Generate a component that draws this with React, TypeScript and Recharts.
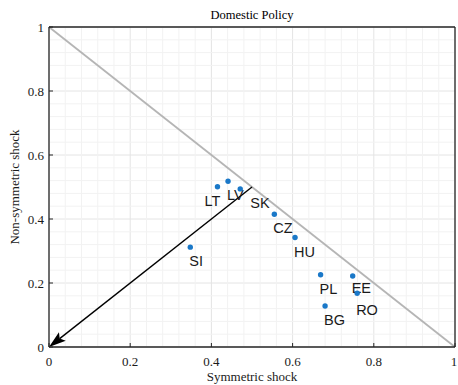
import React from 'react';
import { ScatterChart, Scatter, XAxis, YAxis, CartesianGrid, ReferenceLine, Label } from 'recharts';

// country codes and their shock decomposition
const countries = ['LT', 'LV', 'SK', 'CZ', 'HU', 'SI', 'PL', 'EE', 'RO', 'BG'];
const symmetricShock = [0.415, 0.441, 0.471, 0.555, 0.606, 0.348, 0.669, 0.748, 0.759, 0.68];
const nonSymmetricShock = [0.501, 0.518, 0.494, 0.415, 0.342, 0.312, 0.226, 0.222, 0.168, 0.128];

const majorTicks = [0, 0.2, 0.4, 0.6, 0.8, 1];
const minorTicks = [
  0.04, 0.08, 0.12, 0.16, 0.24, 0.28, 0.32, 0.36, 0.44, 0.48,
  0.52, 0.56, 0.64, 0.68, 0.72, 0.76, 0.84, 0.88, 0.92, 0.96,
];

// reference segments
const diagonal = [{ x: 0, y: 1 }, { x: 1, y: 0 }];
const arrow = [{ x: 0.5, y: 0.5 }, { x: 0, y: 0 }];

const data = countries.map((name, i) => ({
  name,
  x: symmetricShock[i],
  y: nonSymmetricShock[i],
}));

// a few labels were nudged by hand in the original figure
const labelNudge: Record<string, [number, number]> = {
  LT: [-12, 0],
  SK: [11, 0],
  EE: [0, -2],
  RO: [0, 3],
};

const serif = '"Liberation Serif", "Times New Roman", serif';
const sans = '"Liberation Sans", Arial, sans-serif';
const axisColor = '#262626';

const XTick = (props: any) => {
  const { x, y, payload } = props;
  return (
    <text x={x} y={y + 9} textAnchor="middle" fontFamily={serif} fontSize={13} fill="#1a1a1a">
      {String(payload.value)}
    </text>
  );
};

const YTick = (props: any) => {
  const { x, y, payload } = props;
  return (
    <text x={x} y={y + 4.5} textAnchor="end" fontFamily={serif} fontSize={13} fill="#1a1a1a">
      {String(payload.value)}
    </text>
  );
};

const renderPoint = (props: any) => {
  const { cx, cy, payload } = props;
  const [dx, dy] = labelNudge[payload.name] || [0, 0];
  return (
    <g>
      <circle cx={cx} cy={cy} r={2.7} fill="#1a78c8" />
      <text x={cx - 1 + dx} y={cy + 19 + dy} fontFamily={sans} fontSize={14.5} fill="#1a1a1a">
        {payload.name}
      </text>
    </g>
  );
};

// matlab-style arrow with a swept-back head
const renderArrow = (props: any) => {
  const { x1, y1, x2, y2 } = props;
  const a = Math.atan2(y2 - y1, x2 - x1);
  const cos = Math.cos(a);
  const sin = Math.sin(a);
  const len = 17;
  const half = 5.5;
  const bx = x2 - len * cos;
  const by = y2 - len * sin;
  const nx = x2 - len * 0.8 * cos;
  const ny = y2 - len * 0.8 * sin;
  return (
    <g>
      <line x1={x1} y1={y1} x2={nx} y2={ny} stroke="#000" strokeWidth={1.4} />
      <polygon
        points={`${x2},${y2} ${bx - sin * half},${by + cos * half} ${nx},${ny} ${bx + sin * half},${by - cos * half}`}
        fill="#000"
      />
    </g>
  );
};

const noTick = () => <g />;

export default function App() {
  return (
    <div style={{ position: 'absolute', left: 0, top: 0, background: '#fff' }}>
      <ScatterChart width={458} height={385} margin={{ top: 26, right: 2, bottom: 0, left: 0 }}>
        <CartesianGrid stroke="#e4e4e4" strokeWidth={1} />
        {minorTicks.map((v) => (
          <ReferenceLine key={`vx${v}`} x={v} stroke="#f2f2f2" strokeWidth={1} />
        ))}
        {minorTicks.map((v) => (
          <ReferenceLine key={`hy${v}`} y={v} stroke="#f2f2f2" strokeWidth={1} />
        ))}
        <XAxis
          type="number"
          dataKey="x"
          domain={[0, 1]}
          ticks={majorTicks}
          height={38}
          tickSize={-4}
          tickMargin={14}
          tick={XTick}
          stroke={axisColor}
          axisLine={{ strokeWidth: 1.3 }}
        >
          <Label
            value="Symmetric shock"
            position="insideBottom"
            offset={4}
            style={{ fontFamily: serif, fontSize: 13, fill: '#1a1a1a' }}
          />
        </XAxis>
        <XAxis
          xAxisId="top"
          orientation="top"
          type="number"
          domain={[0, 1]}
          ticks={majorTicks}
          height={1}
          tickSize={-4}
          tick={noTick}
          stroke={axisColor}
          axisLine={{ strokeWidth: 1.3 }}
        >
          <Label
            value="Domestic Policy"
            position="top"
            offset={7}
            style={{ fontFamily: serif, fontSize: 12.5, fill: '#000' }}
          />
        </XAxis>
        <YAxis
          type="number"
          dataKey="y"
          domain={[0, 1]}
          ticks={majorTicks}
          width={49}
          tickSize={-4}
          tickMargin={9}
          tick={YTick}
          stroke={axisColor}
          axisLine={{ strokeWidth: 1.3 }}
        >
          <Label
            value="Non-symmetric shock"
            position="insideLeft"
            angle={-90}
            offset={14}
            style={{ fontFamily: serif, fontSize: 13, fill: '#1a1a1a', textAnchor: 'middle' }}
          />
        </YAxis>
        <YAxis
          yAxisId="right"
          orientation="right"
          type="number"
          domain={[0, 1]}
          ticks={majorTicks}
          width={1}
          tickSize={-4}
          tick={noTick}
          stroke={axisColor}
          axisLine={{ strokeWidth: 1.3 }}
        />
        <ReferenceLine segment={diagonal} stroke="#b5b5b5" strokeWidth={1.8} ifOverflow="visible" />
        <ReferenceLine segment={arrow} ifOverflow="visible" shape={renderArrow} />
        <Scatter data={data} shape={renderPoint} isAnimationActive={false} />
      </ScatterChart>
    </div>
  );
}
